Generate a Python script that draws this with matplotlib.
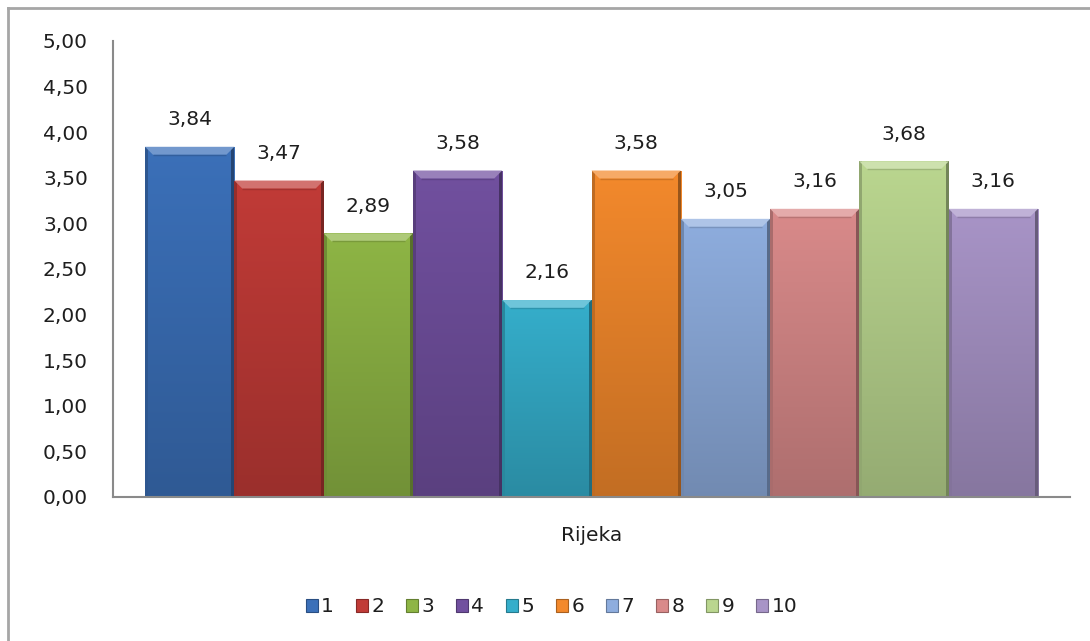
import numpy as np
import matplotlib
matplotlib.use("Agg")
import matplotlib.pyplot as plt
from matplotlib.patches import Patch, Polygon, Rectangle
from matplotlib.lines import Line2D
from matplotlib.colors import to_rgb

category = "Rijeka"
series = ["1", "2", "3", "4", "5", "6", "7", "8", "9", "10"]
values = [3.84, 3.47, 2.89, 3.58, 2.16, 3.58, 3.05, 3.16, 3.68, 3.16]
colors = ["#3b70b9", "#c13b37", "#8eb545", "#71509f", "#35aecb",
          "#f3892c", "#8eadde", "#d98a8a", "#bad68f", "#a894c7"]
yticks = [0, 0.5, 1, 1.5, 2, 2.5, 3, 3.5, 4, 4.5, 5]

plt.rcParams["font.family"] = "DejaVu Sans"
TXT = "#1e1e1e"
AXC = "#8a8a8a"


def comma(v):
    return f"{v:.2f}".replace(".", ",")


def shade(c, f):
    r = np.array(to_rgb(c))
    return tuple(np.clip(r * f, 0, 1))


def tint(c, f):
    r = np.array(to_rgb(c))
    return tuple(r + (1 - r) * f)


W, H = 1090, 641
fig = plt.figure(figsize=(W / 100, H / 100), dpi=100)
ax = fig.add_axes([113 / W, 1 - 497 / H, (1070 - 113) / W, (497 - 41) / H])

x = np.arange(len(values))
bars = ax.bar(x, values, width=1.0, color=colors, linewidth=0, zorder=2)

# vertical gradient + bevel on every bar
bev_h = 8 / 91.2
bev_w = 8 / 89.3
edge = 3 / 89.3
for b, v, c in zip(bars, values, colors):
    x0, x1 = b.get_x(), b.get_x() + b.get_width()
    top, bot = np.array(to_rgb(c)), np.array(shade(c, 0.80))
    t = np.linspace(0, 1, 200)[:, None]
    grad = (top * (1 - t) + bot * t)[:, None, :]
    im = ax.imshow(grad, extent=(x0, x1, 0, v), aspect="auto", zorder=2.1,
                   interpolation="bilinear")
    im.set_clip_path(b)
    ax.add_patch(Rectangle((x0, 0), edge, v, color=shade(c, 0.78), lw=0, zorder=2.2))
    ax.add_patch(Rectangle((x1 - edge, 0), edge, v, color=shade(c, 0.62), lw=0, zorder=2.2))
    ax.add_patch(Polygon([(x0, v), (x1, v), (x1 - bev_w, v - bev_h), (x0 + bev_w, v - bev_h)],
                         closed=True, color=tint(c, 0.28), lw=0, zorder=2.3))
    ax.plot([x0 + bev_w, x1 - bev_w], [v - bev_h, v - bev_h], color=shade(c, 0.85),
            lw=1, zorder=2.35, solid_capstyle="butt")
    ax.annotate(comma(v), (b.get_x() + b.get_width() / 2, v), xytext=(0, 19.5),
                textcoords="offset points", ha="center", va="center",
                fontsize=14.5, color=TXT)

gap = 32 / 89.3
ax.set_xlim(-0.5 - gap, len(values) - 0.5 + gap)
ax.set_ylim(0, 5)
ax.set_yticks(yticks)
ax.set_yticklabels([comma(v) for v in yticks])
ax.set_xticks([(len(values) - 1) / 2])
ax.set_xticklabels([category])
ax.tick_params(axis="y", length=0, pad=18, labelsize=14.5, labelcolor=TXT)
ax.tick_params(axis="x", length=0, pad=21, labelsize=14.5, labelcolor=TXT)
for s in ("top", "right"):
    ax.spines[s].set_visible(False)
for s in ("left", "bottom"):
    ax.spines[s].set_color(AXC)
    ax.spines[s].set_linewidth(1.5)
    ax.spines[s].set_zorder(3)

handles = [Patch(facecolor=c, edgecolor=shade(c, 0.7), linewidth=0.8) for c in colors]
fig.legend(handles, series, loc="center", bbox_to_anchor=(0.506, 1 - 607 / H),
           ncol=len(series), frameon=False, fontsize=14.5, handlelength=0.6,
           handleheight=0.6, handletextpad=0.15, columnspacing=1.1,
           labelcolor=TXT)

# chart area border
fig.add_artist(Line2D([8 / W, 8 / W], [0, 1 - 8 / H], color="#a6a6a6", lw=2))
fig.add_artist(Line2D([8 / W, 1], [1 - 8 / H, 1 - 8 / H], color="#a6a6a6", lw=2))

fig.savefig("out.png", dpi=100, facecolor="white")
